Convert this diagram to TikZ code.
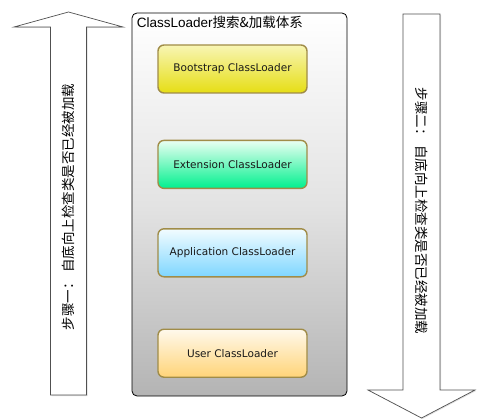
\documentclass[tikz,border=0pt]{standalone}
\usepackage{fontspec}
\setmainfont{DejaVu Sans}
\newfontfamily\cjkfont{Noto Sans CJK SC}
\newfontfamily\titlefont{Liberation Sans}
\usetikzlibrary{positioning, shadows}
\definecolor{mborder}{HTML}{A08C48}
\definecolor{byellowtop}{HTML}{F8F5B4}
\definecolor{byellow}{HTML}{E6DE14}
\definecolor{egreentop}{HTML}{EAFFF2}
\definecolor{egreen}{HTML}{00F08E}
\definecolor{ablutop}{HTML}{F2FCFF}
\definecolor{ablue}{HTML}{7ED6FF}
\definecolor{uorangetop}{HTML}{FFF9EC}
\definecolor{uorange}{HTML}{FFD478}
\definecolor{mgray}{HTML}{B4B4B4}
\definecolor{arrowline}{HTML}{505050}
\tikzstyle{loader} = [rectangle, rounded corners=6pt, minimum width=149pt, minimum height=48pt, draw=mborder, line width=1.4pt, text=black!90, font=\fontsize{10.5}{12}\selectfont, shading=axis, shading angle=0]
\tikzstyle{system} = [rectangle, rounded corners=5pt, minimum width=215pt, minimum height=383pt, draw=black, line width=0.8pt, top color=white, bottom color=mgray, middle color=black!11]
\tikzstyle{bigarrow} = [fill=white, draw=arrowline, line width=0.7pt, drop shadow={opacity=0.25, shadow xshift=1pt, shadow yshift=-1pt}]
\tikzstyle{steptext} = [font=\cjkfont\fontsize{13.5}{15}\selectfont, text=black]

\begin{document}
\begin{tikzpicture}[x=1pt, y=-1pt]
  \useasboundingbox (0,0) rectangle (488,420);
  % step arrows
  \draw [bigarrow] (50.5,395) -- (50.5,27) -- (14,27) -- (68.5,12) -- (123,27) -- (86.5,27) -- (86.5,395) -- cycle;
  \draw [bigarrow] (403,14) -- (403,390) -- (368,390) -- (421.5,418) -- (475,390) -- (440,390) -- (440,14) -- cycle;
  \node (up) [steptext, rotate=90] at (68.5,207) {步骤一： 自底向上检查类是否已经被加载};
  \node (down) [steptext, rotate=-90] at (421.5,211) {步骤二： 自底向上检查类是否已经被加载};
  % loader hierarchy
  \node (sys) [system] at (239.5,204.5) {};
  \node (title) [anchor=north west, inner sep=0pt, font=\fontsize{13.5}{15}\selectfont] at ([xshift=5pt, yshift=-3pt]sys.north west) {\titlefont ClassLoader\cjkfont 搜索\&加载体系};
  \node (boot) [loader, top color=byellowtop, bottom color=byellow] at (232.5,69) {Bootstrap ClassLoader};
  \node (ext) [loader, top color=egreentop, bottom color=egreen, below=46pt of boot] {Extension ClassLoader};
  \node (app) [loader, top color=ablutop, bottom color=ablue, below=39pt of ext] {Application ClassLoader};
  \node (user) [loader, top color=uorangetop, bottom color=uorange, below=51pt of app] {User ClassLoader};
\end{tikzpicture}
\end{document}
